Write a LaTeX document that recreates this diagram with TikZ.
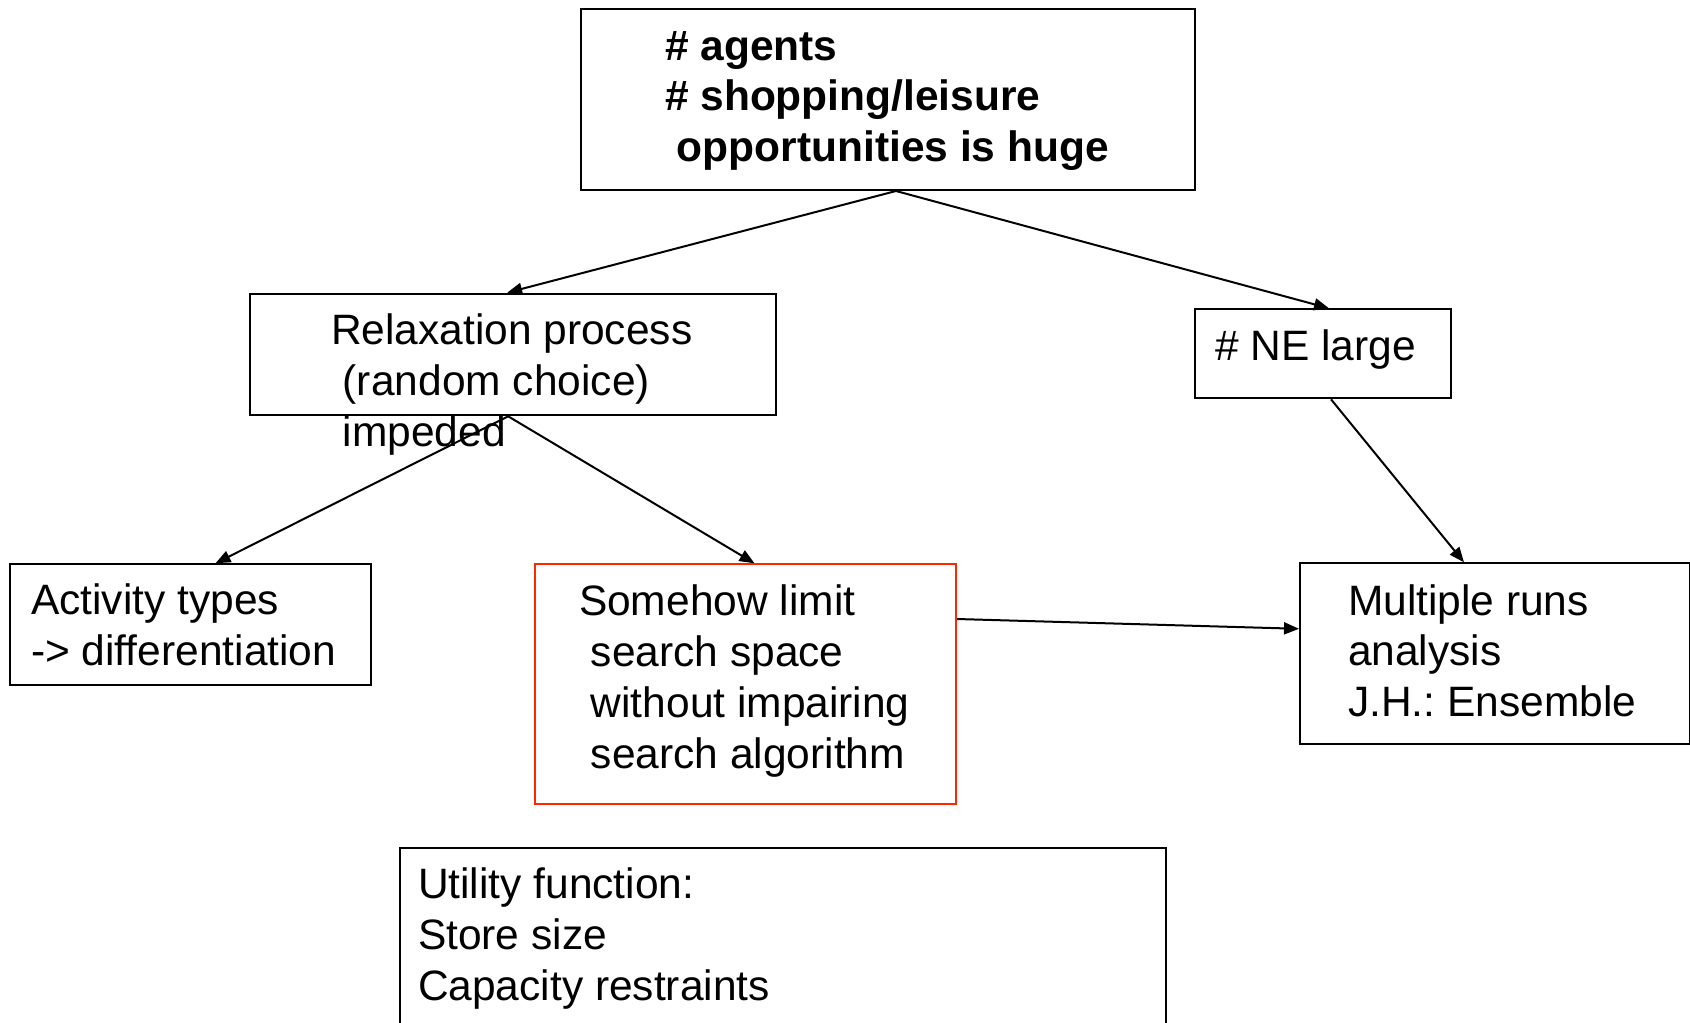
\documentclass[tikz,border=0pt]{standalone}
\usepackage{fontspec}
\setmainfont{Liberation Sans}
\usepackage{tikz}
\usetikzlibrary{arrows.meta,calc,positioning}
\tikzset{
  box/.style = {draw, rectangle, line width=2pt, inner sep=0pt, anchor=north west},
  box_r/.style = {box, draw=my_red},
  txt/.style = {align=left, inner sep=0pt, anchor=base west,
  font=\fontsize{42.5pt}{50.7pt}\selectfont},
  txt_b/.style = {txt, font=\fontsize{42.5pt}{50.7pt}\selectfont\bfseries}
}
\definecolor{my_red}{RGB}{255, 38, 0}
\frenchspacing

\begin{document}
\begin{tikzpicture}[x=1pt, y=-1pt, ->, >={Triangle[length=15pt, width=12pt]},
          line width=2pt]
        \useasboundingbox (0,0) rectangle (1690,1023);
        \clip (0,0) rectangle (1690,1023);
        % boxes
        \node [box, minimum width=614pt, minimum height=181.5pt] (top) at (580,7.5) {};
        \node [box, minimum width=525.7pt, minimum height=121.6pt] (relax) at (249.3,292.7) {};
        \node [box, minimum width=256pt, minimum height=89pt] (ne) at (1194,308.3) {};
        \node [box, minimum width=361pt, minimum height=120.7pt] (act) at (9,563.3) {};
        \node [box_r, minimum width=421pt, minimum height=239.4pt] (lim) at (534,563.3) {};
        \node [box, minimum width=390pt, minimum height=181pt] (mult) at (1299,562.3) {};
        \node [box, minimum width=765.7pt, minimum height=200pt] (util) at (399.3,846.7) {};
        % texts (placed at the baseline of their last line)
        \node [txt_b] (top_t) at (664,161.5) {\# agents\\\# shopping/leisure\\\ opportunities is huge};
        \node [txt] (relax_t) at (330,446) {Relaxation process\\\ (random choice)\\\ impeded};
        \node [txt] (ne_t) at (1214,360) {\# NE large};
        \node [txt] (act_t) at (30,665) {Activity types\\-> differentiation};
        \node [txt] (lim_t) at (578,768) {Somehow limit\\\ search space\\\ without impairing\\\ search algorithm};
        \node [txt] (mult_t) at (1347,716.5) {Multiple runs\\analysis\\J.H.: Ensemble};
        \node [txt] (util_t) at (417,1000) {Utility function:\\Store size\\Capacity restraints};
        % connectors
        \draw ($(top.south)+(8,0)$) -- ($(relax.north)+(-6,0)$);
        \draw ($(top.south)+(8,0)$) -- ($(ne.north)+(6,0)$);
        \draw ($(relax.south)+(-5,0)$) -- ($(act.north)+(25,0)$);
        \draw ($(relax.south)+(-5,0)$) -- ($(lim.north)+(9,0)$);
        \draw ($(ne.south)+(8,0)$) -- ($(mult.north)+(-31,0)$);
        \draw ($(lim.east)+(0,-65)$) -- ($(mult.west)+(0,-25)$);
\end{tikzpicture}
\end{document}
